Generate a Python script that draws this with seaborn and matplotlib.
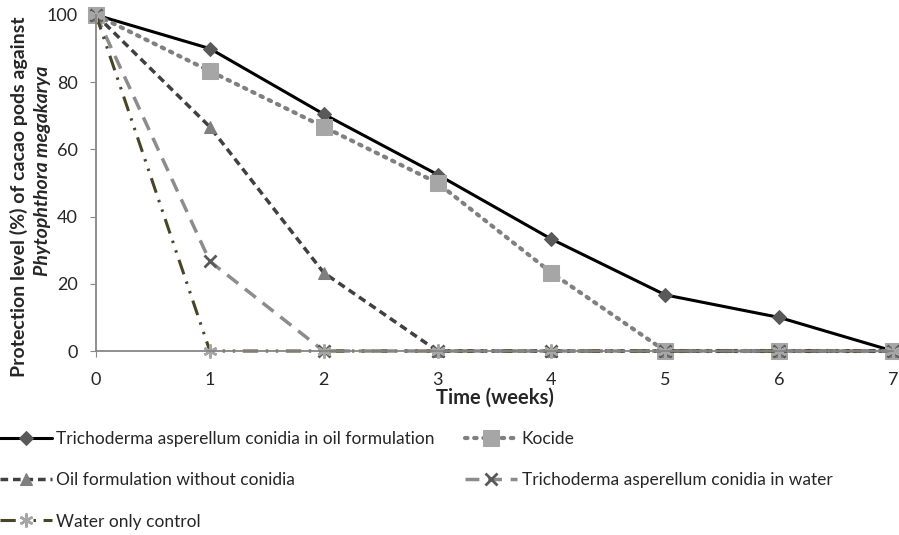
import numpy as np
import pandas as pd
import seaborn as sns
import matplotlib.pyplot as plt

# Valores (proteccion en % por semana)
weeks = [0, 1, 2, 3, 4, 5, 6, 7]
tricho_oil = [100, 90, 70.5, 52.5, 33.3, 16.7, 10, 0]
kocide = [100, 83.3, 66.7, 50, 23.3, 0, 0, 0]
oil_only = [100, 66.7, 23.3, 0, 0, 0, 0, 0]
tricho_water = [100, 26.7, 0, 0, 0, 0, 0, 0]
water_only = [100, 0, 0, 0, 0, 0, 0, 0]

labels = [
    "Trichoderma asperellum conidia in oil formulation",
    "Kocide",
    "Oil formulation without conidia",
    "Trichoderma asperellum conidia in water",
    "Water only control",
]

sns.set_style("white")
plt.rcParams["font.family"] = ["Lato", "DejaVu Sans"]

fig = plt.figure(figsize=(8.99, 5.35), dpi=100)
ax = fig.add_axes([0.1068, 0.3439, 0.8865, 0.6281])

# estilo de cada serie: linea, marcador
estilos = [
    dict(color="black", linestyle="-", linewidth=2.2, marker="D", markersize=7,
         markerfacecolor="#595959", markeredgecolor="#595959"),
    dict(color="#808080", linestyle=(0, (0.6, 1.6)), linewidth=3.0, marker="s", markersize=11,
         markerfacecolor="#a6a6a6", markeredgecolor="#a6a6a6", dash_capstyle="round"),
    dict(color="#404040", linestyle=(0, (2.2, 1.4)), linewidth=2.5, marker="^", markersize=8,
         markerfacecolor="#7f7f7f", markeredgecolor="#7f7f7f"),
    dict(color="#8c8c8c", linestyle=(0, (4, 2.5)), linewidth=2.5, marker="x", markersize=8,
         markerfacecolor="#595959", markeredgecolor="#595959", markeredgewidth=2),
    dict(color="#4a4427", linestyle=(0, (5, 2.5, 0.8, 2.5, 0.8, 2.5)), linewidth=2.2, marker=(6, 2, 0),
         markersize=10, markerfacecolor="#a6a6a6", markeredgecolor="#a6a6a6", markeredgewidth=1.8),
]

series = [tricho_oil, kocide, oil_only, tricho_water, water_only]
for vals, lab, st in zip(series, labels, estilos):
    df = pd.DataFrame({"week": weeks, "prot": vals})
    sns.lineplot(data=df, x="week", y="prot", ax=ax, label=lab, clip_on=False, **st)

ax.set_xlim(0, 7)
ax.set_ylim(0, 100)
ax.set_xticks(weeks)
ax.set_yticks([0, 20, 40, 60, 80, 100])
ax.tick_params(axis="both", labelsize=13, length=4, color="#868686", direction="out",
               bottom=True, left=True)
ax.tick_params(axis="x", pad=11)
ax.tick_params(axis="y", pad=9)
for s in ["top", "right"]:
    ax.spines[s].set_visible(False)
for s in ["left", "bottom"]:
    ax.spines[s].set_color("#868686")
    ax.spines[s].set_linewidth(1.3)

ax.set_xlabel("Time (weeks)", fontsize=14.5, fontweight="bold", labelpad=0)
ax.set_ylabel("")
# etiqueta del eje y en dos lineas (la segunda en cursiva)
ax.text(-0.0966, 0.458, "Protection level (%) of cacao pods against", transform=ax.transAxes,
        rotation=90, ha="center", va="center", fontsize=14, fontweight="bold")
ax.text(-0.0668, 0.536, "Phytophthora megakarya", transform=ax.transAxes,
        rotation=90, ha="center", va="center", fontsize=14, fontweight="bold", style="italic")

h, l = ax.get_legend_handles_labels()
ax.get_legend().remove()
orden = [0, 2, 4, 1, 3]
fig.legend([h[i] for i in orden], [l[i] for i in orden], ncol=2, loc="upper left",
           bbox_to_anchor=(0.0, 0.194), frameon=False, fontsize=12.5,
           handlelength=3.0, handletextpad=0.25, labelspacing=1.45, columnspacing=1.75,
           borderaxespad=0, borderpad=0)

fig.savefig("out.png", dpi=100)
